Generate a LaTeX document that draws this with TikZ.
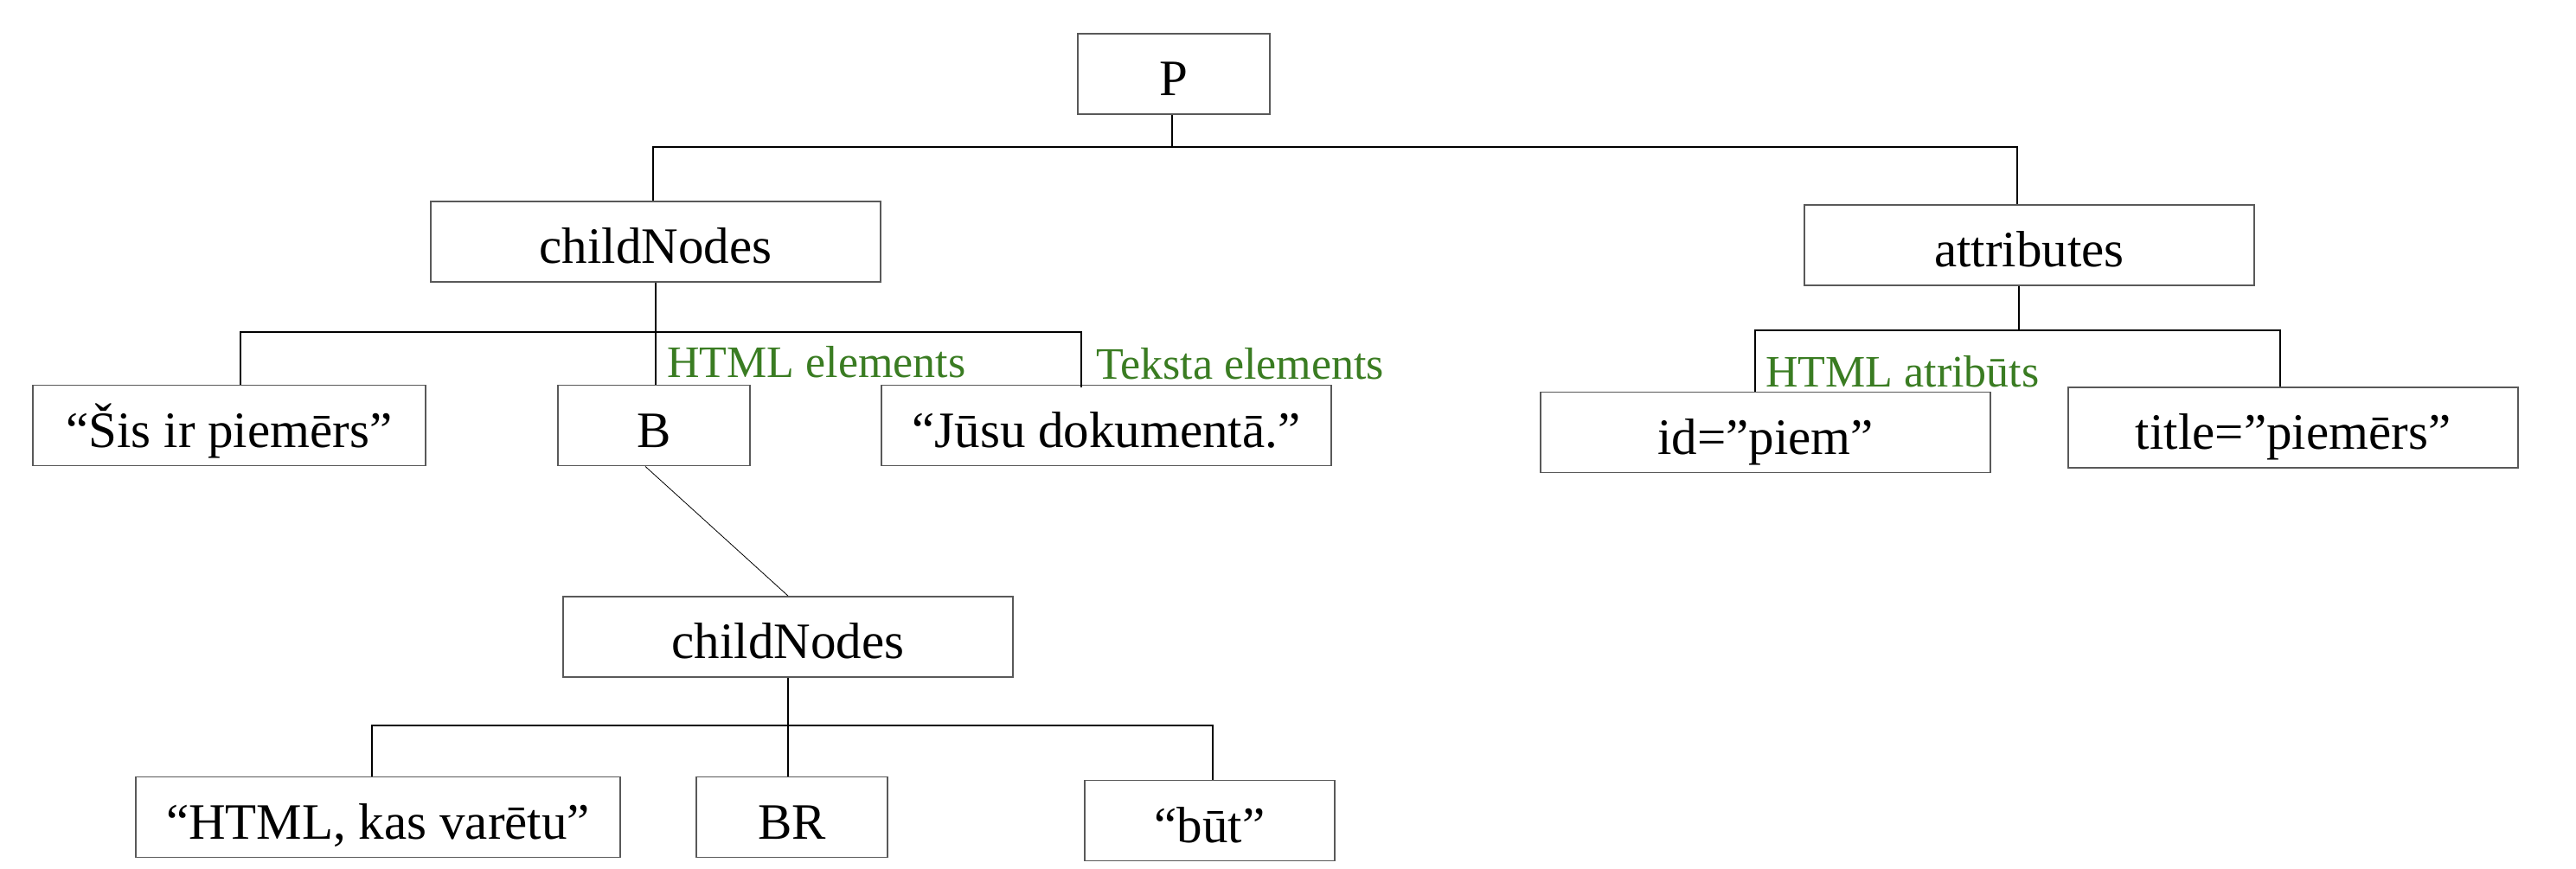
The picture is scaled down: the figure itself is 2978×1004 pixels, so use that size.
\documentclass[tikz,border=0pt]{standalone}
\usepackage{fontspec}
\setmainfont{Liberation Serif}
\definecolor{lblgreen}{RGB}{58,124,34}
\begin{document}
\begin{tikzpicture}[x=1pt,y=-1pt,
  box/.style={draw=black!65, line width=1.8pt, rectangle, inner sep=0pt,
    minimum height=93pt, text height=50pt, text depth=0pt,
    font=\fontsize{59}{70}\selectfont},
  conn/.style={draw=black, line width=1.3pt},
  lbl/.style={anchor=base west, inner sep=0pt, text=lblgreen,
    font=\fontsize{52}{60}\selectfont}]
\useasboundingbox (0,0) rectangle (2978,1004);

% boxes
\node[box, minimum width=222pt] (P) at (1357,85.5) {P};
\node[box, minimum width=520pt] (cn1) at (758,279.5) {childNodes};
\node[box, minimum width=520pt] (attr) at (2346,283.5) {attributes};
\node[box, minimum width=454pt] (sis) at (265,492) {“Šis ir piemērs”};
\node[box, minimum width=222pt] (B) at (756,492) {B};
\node[box, minimum width=520pt] (jusu) at (1279,492) {“Jūsu dokumentā.”};
\node[box, minimum width=520pt] (id) at (2041,500) {id=”piem”};
\node[box, minimum width=520pt] (title) at (2651,494.5) {title=”piemērs”};
\node[box, minimum width=520pt] (cn2) at (911,736.5) {childNodes};
\node[box, minimum width=560pt] (html) at (437,945) {“HTML, kas varētu”};
\node[box, minimum width=221pt] (br) at (915.5,945) {BR};
\node[box, minimum width=289pt] (but) at (1398.5,949) {“būt”};

% bus levels
\coordinate (bus1) at (0,170);
\coordinate (bus2) at (0,384);
\coordinate (bus3) at (0,382);
\coordinate (bus4) at (0,839);

% connectors
\draw[conn] ([xshift=-2pt]P.south) -- ([xshift=-2pt]P.south |- bus1);
\draw[conn] ([xshift=-3pt]cn1.north) |- ([xshift=-14pt]attr.north |- bus1) -- ([xshift=-14pt]attr.north);

\draw[conn] (cn1.south) -- (cn1.south |- B.north);
\draw[conn] ([xshift=13pt]sis.north) |- ([xshift=-29pt]jusu.north |- bus2) -- ([xshift=-29pt,yshift=-3pt]jusu.north);

\draw[conn] ([xshift=-12pt]attr.south) -- ([xshift=-12pt]attr.south |- bus3);
\draw[conn] ([xshift=-12pt]id.north) |- ([xshift=-15pt]title.north |- bus3) -- ([xshift=-15pt]title.north);

\draw[conn, line width=0.8pt] ([xshift=-10pt]B.south) -- (cn2.north);

\draw[conn] (cn2.south) -- (cn2.south |- br.north);
\draw[conn] ([xshift=-7pt]html.north) |- ([xshift=3.5pt]but.north |- bus4) -- ([xshift=3.5pt]but.north);

% labels
\node[lbl] (l1) at (771,436) {HTML elements};
\node[lbl] (l2) at (1267,438) {Teksta elements};
\node[lbl] (l3) at (2041,447) {HTML atribūts};
\end{tikzpicture}
\end{document}
